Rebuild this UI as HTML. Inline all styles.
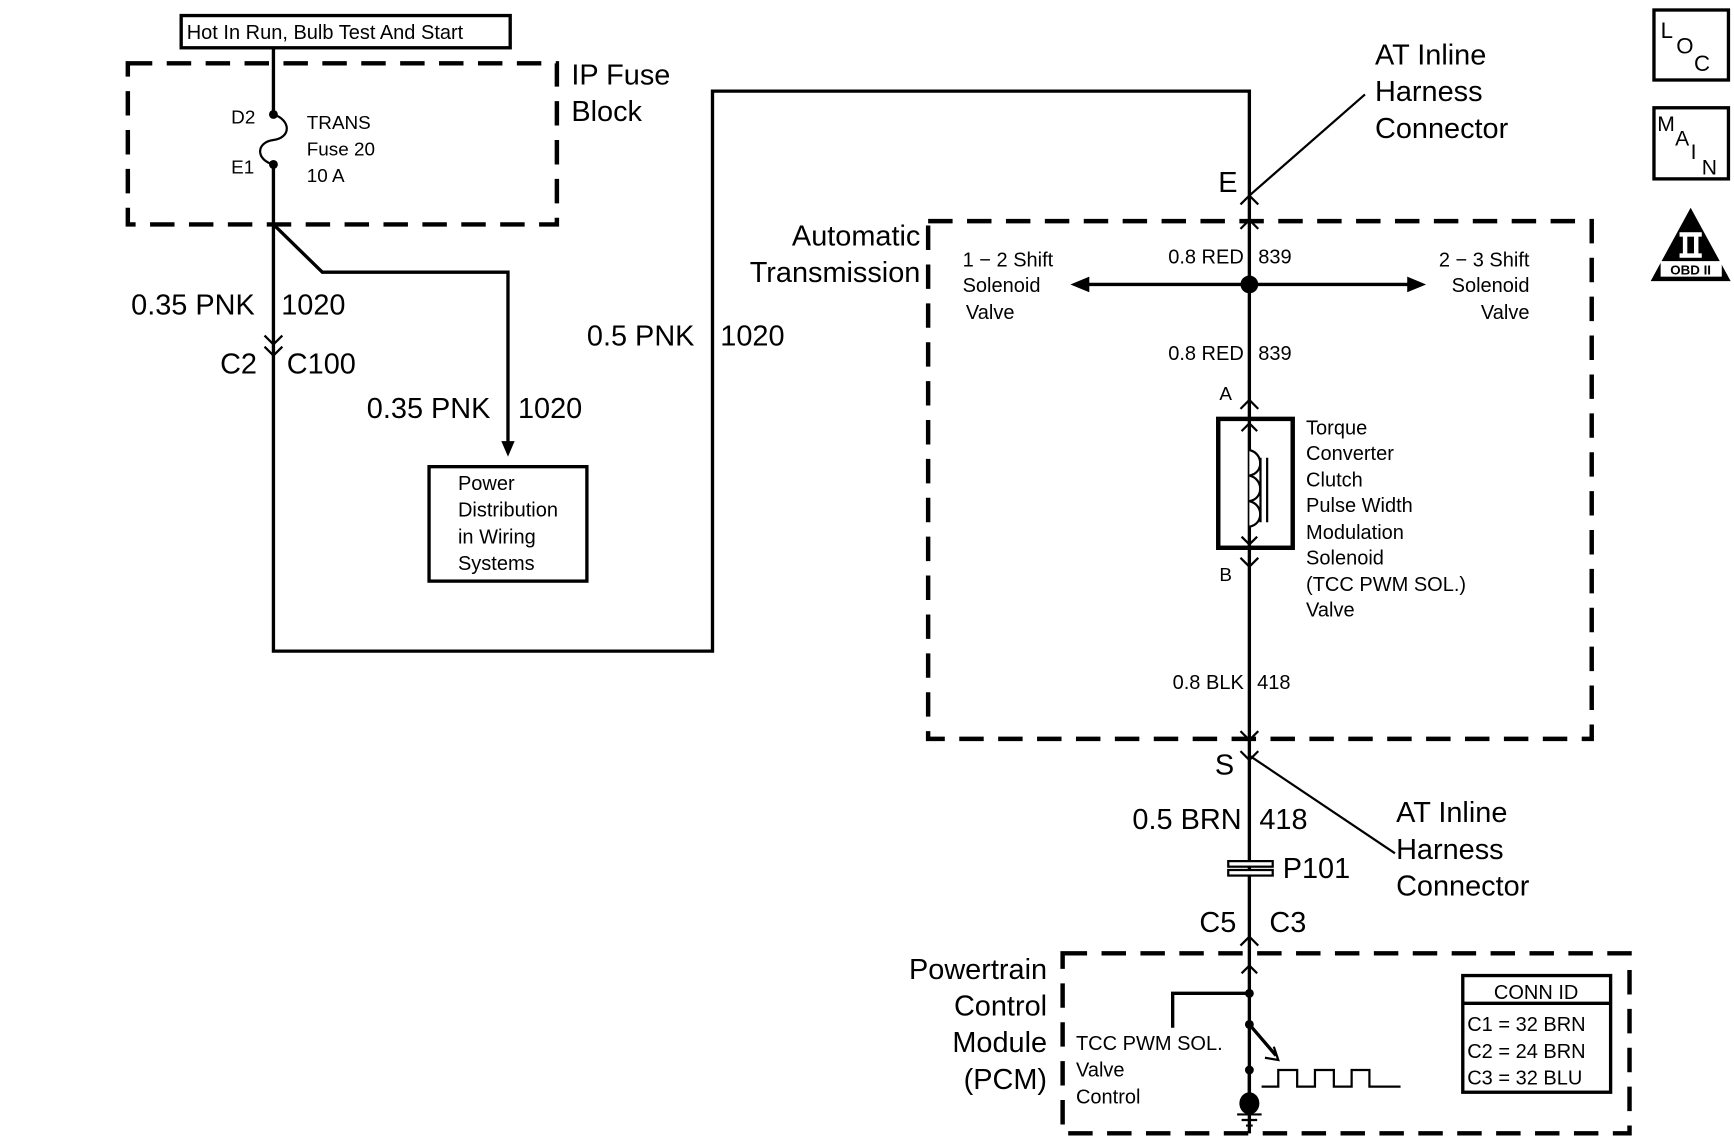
<!DOCTYPE html>
<html><head><meta charset="utf-8"><style>
html,body{margin:0;padding:0;background:#fff;width:1734px;height:1140px;overflow:hidden}
svg{display:block}
text{font-family:"Liberation Sans",sans-serif;fill:#000}
</style></head><body>
<svg width="1734" height="1140" viewBox="0 0 1560 1026" preserveAspectRatio="none" xmlns="http://www.w3.org/2000/svg">
<g fill="none" stroke="#000">
<!-- Hot box -->
<rect x="163" y="14" width="296" height="29" stroke-width="3"/>
<!-- dashed boxes -->
<g stroke-width="4" stroke-dasharray="22,13">
<rect x="115" y="57" width="386" height="145"/>
<rect x="835" y="199" width="597" height="466"/>
<rect x="956" y="858" width="510" height="162"/>
</g>
<g stroke-width="3">
<!-- main wire -->
<path d="M246 43 V100 M246 150 V586 H641 V82 H1124 V1020"/>
<!-- fuse -->
<path d="M246 103 C262 108 262 124 246 126 C230 128 230 144 246 148" stroke-width="2"/>
<!-- branch -->
<path d="M246 202 L290 245 H457 V405"/>
<rect x="386" y="420" width="142" height="103"/>
<!-- C2 C100 -->
<path d="M238 302 L246 310 L254 302 M238 312 L246 320 L254 312" stroke-width="2"/>
<!-- E connector -->
<path d="M1116 184 L1124 176 L1132 184 M1124 176 L1228 85" stroke-width="2"/>
<path d="M1116 206 L1124 198 L1132 206" stroke-width="2"/>
<!-- junction arrows -->
<path d="M975 256 H1270"/>
<!-- A / B -->
<path d="M1116 368 L1124 360 L1132 368 M1116 502 L1124 510 L1132 502" stroke-width="2"/>
<rect x="1096" y="377" width="67" height="116" stroke-width="4"/>
<path d="M1124 380 V490 M1117 388 L1124 381 L1131 388 M1117 483 L1124 490 L1131 483" stroke-width="2"/>
<path d="M1124 405 C1137 408 1137 426 1124 428 C1137 431 1137 449 1124 451 C1137 454 1137 472 1124 474" stroke-width="2" fill="#fff"/>
<path d="M1134 412 V470 M1140 412 V470" stroke-width="2"/>
<!-- S -->
<path d="M1116 658 L1124 666 L1132 658 M1116 676 L1124 684 L1132 676 M1124 680 L1255 768" stroke-width="2"/>
<!-- P101 -->
<rect x="1105" y="775" width="40" height="5" fill="#fff" stroke-width="2"/>
<rect x="1105" y="783" width="40" height="5" fill="#fff" stroke-width="2"/>
<!-- C5 chevron -->
<path d="M1116 851 L1124 843 L1132 851" stroke-width="2"/>
<!-- PCM internals -->
<path d="M1117 876 L1124 869 L1131 876" stroke-width="2"/>
<path d="M1124 894 H1055 V925 M1124 922 L1148 950 M1124 965 V990"/>
<path d="M1138 952 L1150 954 L1146 942" stroke-width="2"/>
<path d="M1135 978 H1150 V963 H1167 V978 H1183 V963 H1200 V978 H1216 V963 H1232 V978 H1260" stroke-width="2"/>
<path d="M1113 1003 H1135 M1117 1008 H1131 M1121 1013 H1127" stroke-width="2"/>
<!-- conn id -->
<rect x="1316" y="878" width="133" height="105"/>
<path d="M1316 903 H1449"/>
<!-- icons -->
<rect x="1488" y="9" width="67" height="63"/>
<rect x="1488" y="97" width="67" height="64"/>
</g>
</g>
<g fill="#000">
<circle cx="246" cy="103" r="4"/><circle cx="246" cy="148" r="4"/>
<circle cx="1124" cy="256" r="8"/>
<polygon points="963,256 980,249 980,263"/>
<polygon points="1283,256 1266,249 1266,263"/>
<polygon points="451,397 463,397 457,411"/>
<circle cx="1124" cy="894" r="4"/><circle cx="1124" cy="922" r="4"/><circle cx="1124" cy="963" r="4"/>
<ellipse cx="1124" cy="993" rx="9" ry="10"/>
<polygon points="1521,187 1485,253 1557,253"/>
</g>
<rect x="1511" y="209" width="20" height="4" fill="#fff"/>
<rect x="1511" y="228" width="20" height="4" fill="#fff"/>
<rect x="1514" y="211" width="4" height="19" fill="#fff"/>
<rect x="1524" y="211" width="4" height="19" fill="#fff"/>
<rect x="1494" y="235" width="55" height="14" fill="#fff"/>
<text x="1521" y="247" font-size="12" text-anchor="middle" font-weight="bold">OBD II</text>

<text x="168" y="35" font-size="18">Hot In Run, Bulb Test And Start</text>
<text x="514" y="76" font-size="26">IP Fuse</text>
<text x="514" y="109" font-size="26">Block</text>
<text x="208" y="111" font-size="17">D2</text>
<text x="208" y="156" font-size="17">E1</text>
<text x="276" y="116" font-size="17">TRANS</text>
<text x="276" y="140" font-size="17">Fuse 20</text>
<text x="276" y="164" font-size="17">10 A</text>
<text x="118" y="283" font-size="26">0.35 PNK</text><text x="253" y="283" font-size="26">1020</text>
<text x="198" y="336" font-size="26">C2</text><text x="258" y="336" font-size="26">C100</text>
<text x="330" y="376" font-size="26">0.35 PNK</text><text x="466" y="376" font-size="26">1020</text>
<text x="412" y="441" font-size="18">Power</text>
<text x="412" y="465" font-size="18">Distribution</text>
<text x="412" y="489" font-size="18">in Wiring</text>
<text x="412" y="513" font-size="18">Systems</text>
<text x="528" y="311" font-size="26">0.5 PNK</text><text x="648" y="311" font-size="26">1020</text>
<text x="828" y="221" font-size="26" text-anchor="end">Automatic</text>
<text x="828" y="254" font-size="26" text-anchor="end">Transmission</text>
<text x="1237" y="58" font-size="26">AT Inline</text>
<text x="1237" y="91" font-size="26">Harness</text>
<text x="1237" y="124" font-size="26">Connector</text>
<text x="1096" y="173" font-size="26">E</text>
<text x="866" y="240" font-size="18">1 − 2 Shift</text>
<text x="866" y="263" font-size="18">Solenoid</text>
<text x="869" y="287" font-size="18">Valve</text>
<text x="1376" y="240" font-size="18" text-anchor="end">2 − 3 Shift</text>
<text x="1376" y="263" font-size="18" text-anchor="end">Solenoid</text>
<text x="1376" y="287" font-size="18" text-anchor="end">Valve</text>
<text x="1119" y="237" font-size="18" text-anchor="end">0.8 RED</text><text x="1132" y="237" font-size="18">839</text>
<text x="1119" y="324" font-size="18" text-anchor="end">0.8 RED</text><text x="1132" y="324" font-size="18">839</text>
<text x="1097" y="360" font-size="17">A</text>
<text x="1097" y="523" font-size="17">B</text>
<text x="1175" y="391" font-size="18">Torque</text>
<text x="1175" y="414" font-size="18">Converter</text>
<text x="1175" y="438" font-size="18">Clutch</text>
<text x="1175" y="461" font-size="18">Pulse Width</text>
<text x="1175" y="485" font-size="18">Modulation</text>
<text x="1175" y="508" font-size="18">Solenoid</text>
<text x="1175" y="532" font-size="18">(TCC PWM SOL.)</text>
<text x="1175" y="555" font-size="18">Valve</text>
<text x="1119" y="620" font-size="18" text-anchor="end">0.8 BLK</text><text x="1131" y="620" font-size="18">418</text>
<text x="1093" y="697" font-size="26">S</text>
<text x="1117" y="746" font-size="26" text-anchor="end">0.5 BRN</text><text x="1133" y="746" font-size="26">418</text>
<text x="1256" y="740" font-size="26">AT Inline</text>
<text x="1256" y="773" font-size="26">Harness</text>
<text x="1256" y="806" font-size="26">Connector</text>
<text x="1154" y="790" font-size="26">P101</text>
<text x="1079" y="839" font-size="26">C5</text><text x="1142" y="839" font-size="26">C3</text>
<text x="942" y="881" font-size="26" text-anchor="end">Powertrain</text>
<text x="942" y="914" font-size="26" text-anchor="end">Control</text>
<text x="942" y="947" font-size="26" text-anchor="end">Module</text>
<text x="942" y="980" font-size="26" text-anchor="end">(PCM)</text>
<text x="968" y="945" font-size="18">TCC PWM SOL.</text>
<text x="968" y="969" font-size="18">Valve</text>
<text x="968" y="993" font-size="18">Control</text>
<text x="1382" y="899" font-size="18" text-anchor="middle">CONN ID</text>
<text x="1320" y="928" font-size="18">C1 = 32 BRN</text>
<text x="1320" y="952" font-size="18">C2 = 24 BRN</text>
<text x="1320" y="976" font-size="18">C3 = 32 BLU</text>
<text x="1494" y="34" font-size="20">L</text><text x="1508" y="48" font-size="20">O</text><text x="1524" y="64" font-size="20">C</text>
<text x="1491" y="118" font-size="19">M</text><text x="1507" y="131" font-size="19">A</text><text x="1521" y="143" font-size="19">I</text><text x="1531" y="157" font-size="19">N</text>
</svg>
</body></html>
